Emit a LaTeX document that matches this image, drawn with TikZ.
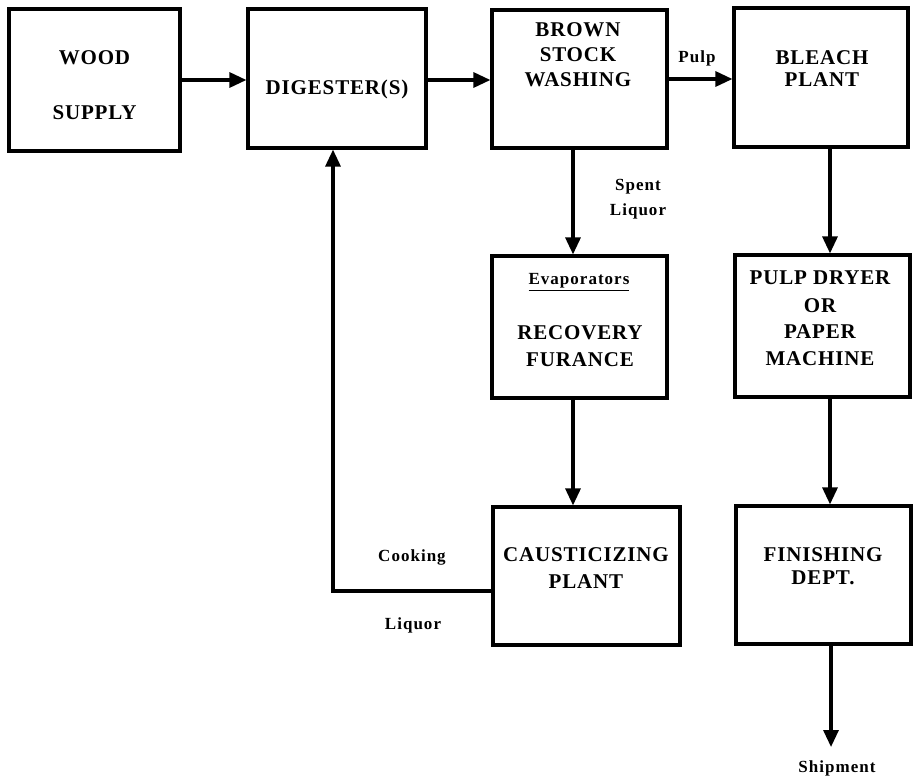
\documentclass[tikz,border=0pt]{standalone}
\usepackage{fontspec}
\setmainfont{Liberation Serif}
\newfontfamily\boxfont[LetterSpace=4]{Liberation Serif}
\newfontfamily\labfont[LetterSpace=6]{Liberation Serif}
\usetikzlibrary{arrows.meta}
\begin{document}
\begin{tikzpicture}[x=1pt,y=-1pt,
  stagebox/.style={draw=black,line width=3.2pt,inner sep=0pt,fill=white},
  boxtext/.style={align=center,font=\boxfont\bfseries\fontsize{21}{26}\selectfont,inner sep=0pt},
  labtext/.style={align=center,font=\labfont\bfseries\fontsize{17}{25}\selectfont,inner sep=0pt},
  flow/.style={line width=3.2pt,-{Triangle[length=17pt,width=15pt]}}]
\useasboundingbox (0,0) rectangle (917,782);
\fill[white] (0,0) rectangle (917,782);
% boxes
\node[stagebox,minimum width=171pt,minimum height=142pt] (wood)   at (94.5,80)  {};
\node[stagebox,minimum width=178pt,minimum height=139pt] (dig)    at (337,78.5) {};
\node[stagebox,minimum width=175pt,minimum height=138pt] (brown)  at (579.5,79) {};
\node[stagebox,minimum width=174pt,minimum height=139pt] (bleach) at (821,77.5) {};
\node[stagebox,minimum width=175pt,minimum height=142pt] (evap)   at (579.5,327) {};
\node[stagebox,minimum width=175pt,minimum height=142pt] (pulp)   at (822.5,326) {};
\node[stagebox,minimum width=187pt,minimum height=138pt] (caus)   at (586.5,576) {};
\node[stagebox,minimum width=175pt,minimum height=138pt] (fin)    at (823.5,575) {};
% box texts
\node[boxtext] (woodT)   at (94.5,85.5) {WOOD\\[29pt]SUPPLY};
\node[boxtext] (digT)    at (337,89)    {DIGESTER(S)};
\node[boxtext] (brownT)  at (578,55)    {BROWN\\[-1pt]STOCK\\[-1pt]WASHING};
\node[boxtext] (bleachT) at (822,69)    {BLEACH\\[-4pt]PLANT};
\node[labtext] (evapT)   at (579,282)   {\underline{Evaporators}};
\node[boxtext] (recT)    at (580,346.5) {RECOVERY\\[1pt]FURANCE};
\node[boxtext] (pulpT)   at (820,318.5) {PULP DRYER\\[2pt]OR\\PAPER\\[1pt]MACHINE};
\node[boxtext] (causT)   at (586,568.5) {CAUSTICIZING\\[1pt]PLANT};
\node[boxtext] (finT)    at (823,566.5) {FINISHING\\[-3pt]DEPT.};
% connector labels
\node[labtext] (pulpL)   at (697,58)    {Pulp};
\node[labtext] (spentL)  at (638,199.5) {Spent\\Liquor};
\node[labtext] (cookL)   at (412,557)   {Cooking};
\node[labtext] (liqL)    at (413,625)   {Liquor};
\node[labtext] (shipL)   at (837,768)   {Shipment};
% helper coordinates
\coordinate (rowA) at (0,80);
\coordinate (rowB) at (0,79);
\coordinate (colA) at (573,0);
\coordinate (colB) at (830,0);
\coordinate (loopc) at (333,591);
\coordinate (shipend) at (831,747);
% connectors
\draw[flow] (wood.east |- rowA) -- (dig.west |- rowA);
\draw[flow] (dig.east |- rowA) -- (brown.west |- rowA);
\draw[flow] (brown.east |- rowB) -- (bleach.west |- rowB);
\draw[flow] (brown.south -| colA) -- (evap.north -| colA);
\draw[flow] (evap.south -| colA) -- (caus.north -| colA);
\draw[flow] (bleach.south -| colB) -- (pulp.north -| colB);
\draw[flow] (pulp.south -| colB) -- (fin.north -| colB);
\draw[flow] (fin.south -| shipend) -- (shipend);
\draw[flow] (caus.west |- loopc) -- (loopc) -- (dig.south -| loopc);
\end{tikzpicture}
\end{document}
